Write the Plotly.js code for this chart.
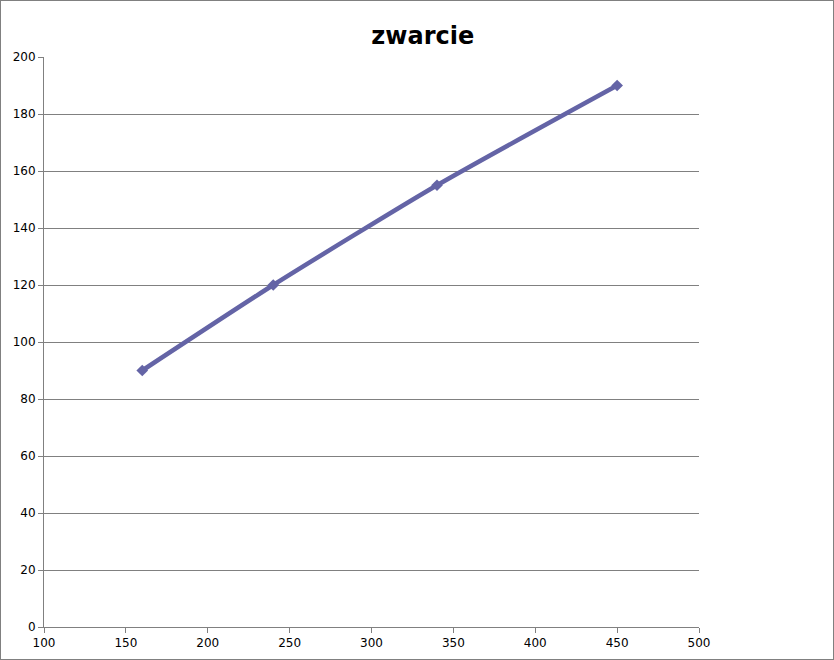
<!DOCTYPE html>
<html>
<head>
<meta charset="utf-8">
<script src="https://cdn.plot.ly/plotly-3.0.1.min.js"></script>
<style>
html,body{margin:0;padding:0;background:#fff;}
#wrap{position:absolute;left:0;top:0;width:834px;height:660px;box-sizing:border-box;border:1px solid #808080;}
#chart{position:absolute;left:0;top:0;width:832px;height:658px;}
</style>
</head>
<body>
<div id="wrap"><div id="chart"></div></div>
<script>
var xValues = [160, 240, 340, 450];
var yValues = [90, 120, 155, 190];
var xTicks = [100, 150, 200, 250, 300, 350, 400, 450, 500];
var yTicks = [0, 20, 40, 60, 80, 100, 120, 140, 160, 180, 200];

var trace = {
  x: xValues,
  y: yValues,
  type: 'scatter',
  mode: 'lines+markers',
  line: {color: '#6464a6', width: 4.5, shape: 'spline', smoothing: 0.6},
  marker: {symbol: 'diamond', size: 9, color: '#6464a6'},
  hoverinfo: 'none'
};

var layout = {
  width: 832, height: 658,
  margin: {l: 43, r: 134, t: 56, b: 32, pad: 0},
  paper_bgcolor: '#ffffff',
  plot_bgcolor: '#ffffff',
  showlegend: false,
  font: {family: 'DejaVu Sans, sans-serif', size: 12, color: '#000000'},
  title: {
    text: '<b>zwarcie</b>',
    font: {family: 'DejaVu Sans, sans-serif', size: 24, color: '#000000'},
    xref: 'container', x: 0.507, xanchor: 'center',
    yref: 'container', y: 0.947, yanchor: 'middle'
  },
  xaxis: {
    range: [100, 500],
    tickvals: xTicks,
    ticktext: xTicks.map(String),
    showgrid: false,
    zeroline: false,
    showline: true,
    linecolor: '#808080',
    linewidth: 1,
    ticks: 'outside',
    ticklen: 5,
    tickcolor: '#808080',
    tickfont: {family: 'DejaVu Sans, sans-serif', size: 12, color: '#000000'}
  },
  yaxis: {
    range: [0, 200],
    tickvals: yTicks,
    ticktext: yTicks.map(String),
    showgrid: true,
    gridcolor: '#808080',
    gridwidth: 1,
    zeroline: false,
    showline: true,
    linecolor: '#808080',
    linewidth: 1,
    ticks: 'outside',
    ticklen: 5,
    tickcolor: '#808080',
    tickfont: {family: 'DejaVu Sans, sans-serif', size: 12, color: '#000000'}
  }
};

Plotly.newPlot('chart', [trace], layout, {staticPlot: true, displayModeBar: false});
</script>
</body>
</html>
